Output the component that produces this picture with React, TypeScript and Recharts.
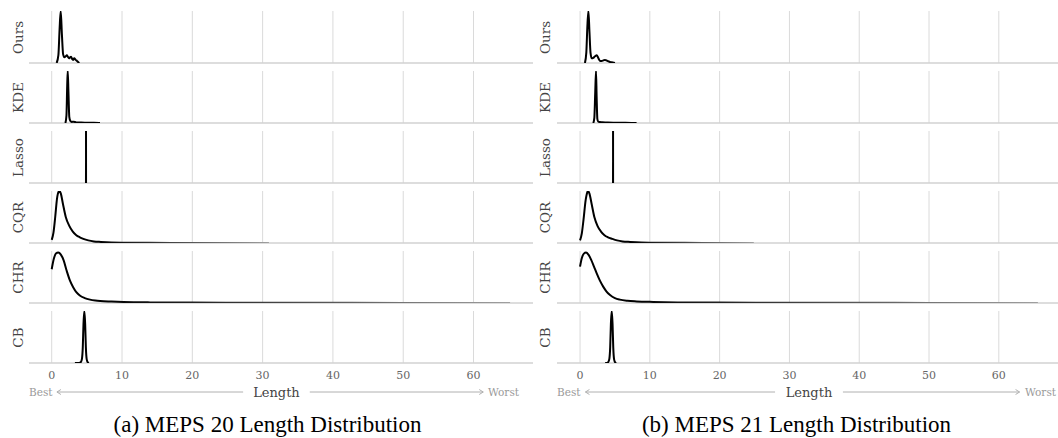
import { LineChart, Line, XAxis, YAxis, ReferenceLine } from 'recharts'

const TICKS = [0, 10, 20, 30, 40, 50, 60]
const METHODS = ['Ours', 'KDE', 'Lasso', 'CQR', 'CHR', 'CB']

// MEPS 20 — normalised density (peak = 1) against interval length
const M20_OURS_X = [0.7, 0.95, 1.12, 1.28, 1.45, 1.62, 1.8, 2.0, 2.15, 2.3, 2.46, 2.62, 2.75, 2.9, 3.05, 3.2, 3.4, 3.6, 3.75, 3.93]
const M20_OURS_Y = [0, 0.15, 0.65, 1.0, 0.55, 0.17, 0.11, 0.13, 0.15, 0.12, 0.09, 0.11, 0.12, 0.08, 0.06, 0.09, 0.06, 0.04, 0.02, 0]
const M20_KDE_X = [1.95, 2.1, 2.2, 2.28, 2.38, 2.5, 2.65, 2.85, 3.1, 3.5, 4.2, 5.0, 6.0, 6.87]
const M20_KDE_Y = [0, 0.15, 0.7, 1.0, 0.6, 0.12, 0.04, 0.02, 0.025, 0.012, 0.008, 0.005, 0.003, 0]
const M20_LASSO_X = [4.875, 4.88, 4.885]
const M20_LASSO_Y = [0, 1, 0]
const M20_CQR_X = [0, 0.25, 0.5, 0.75, 1.0, 1.1, 1.3, 1.6, 2.0, 2.5, 3.0, 3.5, 4.0, 4.5, 5.2, 6.0, 7.0, 8.5, 10.5, 14, 20, 26, 30.9]
const M20_CQR_Y = [0.06, 0.2, 0.5, 0.85, 0.99, 1.0, 0.95, 0.75, 0.5, 0.33, 0.22, 0.15, 0.11, 0.08, 0.05, 0.03, 0.02, 0.01, 0.006, 0.003, 0.002, 0.001, 0]
const M20_CHR_X = [0, 0.3, 0.6, 0.94, 1.3, 1.7, 2.13, 2.6, 3.07, 3.5, 4.0, 4.7, 5.45, 6.2, 6.9, 8.5, 10.2, 14, 20, 30, 40, 50, 58, 65.2]
const M20_CHR_Y = [0.65, 0.85, 0.95, 0.97, 0.93, 0.82, 0.62, 0.43, 0.3, 0.21, 0.145, 0.095, 0.065, 0.048, 0.038, 0.028, 0.02, 0.012, 0.008, 0.005, 0.003, 0.002, 0.001, 0]
const M20_CB_X = [3.3, 3.9, 4.15, 4.3, 4.42, 4.52, 4.64, 4.76, 4.86, 4.98, 5.15, 5.3]
const M20_CB_Y = [0, 0.002, 0.02, 0.08, 0.3, 0.75, 1.0, 0.75, 0.3, 0.07, 0.01, 0]

// MEPS 21
const M21_OURS_X = [0.7, 0.9, 1.05, 1.2, 1.35, 1.5, 1.68, 1.9, 2.15, 2.39, 2.6, 2.87, 3.1, 3.35, 3.58, 3.9, 4.3, 4.7, 5.0]
const M21_OURS_Y = [0, 0.2, 0.7, 1.0, 0.6, 0.2, 0.09, 0.1, 0.13, 0.15, 0.1, 0.04, 0.04, 0.05, 0.06, 0.04, 0.02, 0.01, 0]
const M21_KDE_X = [1.9, 2.05, 2.18, 2.29, 2.38, 2.48, 2.6, 2.8, 3.2, 4.0, 5.0, 6.5, 8.1]
const M21_KDE_Y = [0, 0.1, 0.6, 1.0, 0.5, 0.08, 0.03, 0.02, 0.015, 0.008, 0.005, 0.003, 0]
const M21_LASSO_X = [4.725, 4.73, 4.735]
const M21_LASSO_Y = [0, 1, 0]
const M21_CQR_X = [0, 0.25, 0.5, 0.8, 1.05, 1.15, 1.35, 1.65, 2.05, 2.5, 3.0, 3.5, 4.0, 4.6, 5.3, 6.1, 7.2, 8.8, 11, 15, 20, 24.9]
const M21_CQR_Y = [0.05, 0.18, 0.45, 0.82, 0.98, 1.0, 0.95, 0.76, 0.5, 0.33, 0.22, 0.15, 0.11, 0.08, 0.05, 0.03, 0.02, 0.01, 0.006, 0.003, 0.001, 0]
const M21_CHR_X = [0, 0.25, 0.55, 0.86, 1.2, 1.6, 2.0, 2.39, 2.85, 3.34, 3.8, 4.3, 5.0, 5.7, 6.8, 8.1, 10.5, 14, 20, 30, 40, 50, 58, 65.6]
const M21_CHR_Y = [0.7, 0.86, 0.95, 0.97, 0.93, 0.83, 0.7, 0.57, 0.43, 0.31, 0.22, 0.155, 0.095, 0.065, 0.042, 0.03, 0.02, 0.012, 0.008, 0.005, 0.003, 0.002, 0.001, 0]
const M21_CB_X = [3.6, 3.9, 4.05, 4.2, 4.32, 4.42, 4.54, 4.66, 4.76, 4.88, 5.05, 5.2]
const M21_CB_Y = [0, 0.002, 0.02, 0.08, 0.3, 0.75, 1.0, 0.75, 0.3, 0.07, 0.01, 0]

const zip = (xs: number[], ys: number[]) => xs.map((x, i) => ({ x, y: ys[i] }))

const SERIF = "'DejaVu Serif', serif"
const TIMES = "'Liberation Serif', 'Times New Roman', serif"
const GRID = '#dadada'
const BASE = '#d2d2d2'

interface Panel {
  id: string
  left: number
  width: number
  domain: [number, number]
  labelX: number
  captionX: number
  caption: string
  axisRight: number
  fade: Record<string, number>
  curves: { x: number; y: number }[][]
}

const PANELS: Panel[] = [
  {
    id: 'a',
    left: 29,
    width: 504,
    domain: [-3.23, 68.46],
    labelX: 17.5,
    captionX: 267.5,
    caption: '(a) MEPS 20 Length Distribution',
    axisRight: 519,
    fade: { CQR: 0.22, CHR: 0.12 },
    curves: [
      zip(M20_OURS_X, M20_OURS_Y),
      zip(M20_KDE_X, M20_KDE_Y),
      zip(M20_LASSO_X, M20_LASSO_Y),
      zip(M20_CQR_X, M20_CQR_Y),
      zip(M20_CHR_X, M20_CHR_Y),
      zip(M20_CB_X, M20_CB_Y),
    ],
  },
  {
    id: 'b',
    left: 557,
    width: 501,
    domain: [-3.3, 68.48],
    labelX: 545,
    captionX: 796.5,
    caption: '(b) MEPS 21 Length Distribution',
    axisRight: 1056,
    fade: { CQR: 0.3, CHR: 0.12 },
    curves: [
      zip(M21_OURS_X, M21_OURS_Y),
      zip(M21_KDE_X, M21_KDE_Y),
      zip(M21_LASSO_X, M21_LASSO_Y),
      zip(M21_CQR_X, M21_CQR_Y),
      zip(M21_CHR_X, M21_CHR_Y),
      zip(M21_CB_X, M21_CB_Y),
    ],
  },
]

const ROW_STEP = 60
const ROW_TOP = 9
const PLOT_H = 52

function Ridge({ panel, idx }: { panel: Panel; idx: number }) {
  const last = idx === METHODS.length - 1
  const name = METHODS[idx]
  const fade = panel.fade[name]
  const gid = `fade-${panel.id}-${idx}`
  const height = last ? 2 + PLOT_H + 22 : 2 + PLOT_H + 2
  return (
    <div style={{ position: 'absolute', left: panel.left, top: ROW_TOP + idx * ROW_STEP }}>
      <LineChart
        width={panel.width}
        height={height}
        data={panel.curves[idx]}
        margin={{ top: 2, right: 0, bottom: last ? 0 : 2, left: 0 }}
      >
        <defs>
          <linearGradient id={gid} x1="0" y1="0" x2="1" y2="0">
            <stop offset="0" stopColor="#000" />
            <stop offset={fade ?? 1} stopColor="#000" />
            <stop offset="1" stopColor="#a0a0a0" />
          </linearGradient>
        </defs>
        <XAxis
          type="number"
          dataKey="x"
          domain={panel.domain}
          allowDataOverflow
          ticks={TICKS}
          interval={0}
          hide={!last}
          height={22}
          axisLine={false}
          tickLine={false}
          tick={{ fontSize: 11, fill: '#666', style: { fontFamily: SERIF } }}
        />
        <YAxis type="number" domain={[0, 1]} hide allowDataOverflow />
        {TICKS.map((t) => (
          <ReferenceLine key={t} x={t} stroke={GRID} strokeWidth={1} />
        ))}
        <ReferenceLine y={0} stroke={BASE} strokeWidth={1.5} />
        <Line
          type="monotone"
          dataKey="y"
          stroke={fade !== undefined ? `url(#${gid})` : '#000'}
          strokeWidth={2}
          dot={false}
          activeDot={false}
          isAnimationActive={false}
        />
      </LineChart>
    </div>
  )
}

function AxisTitle({ l, r }: { l: number; r: number }) {
  const w = r - l
  const y = 392
  const a1 = [l + 0.057 * w, l + 0.437 * w]
  const a2 = [l + 0.573 * w, l + 0.927 * w]
  return (
    <g style={{ fontFamily: SERIF }}>
      <text x={l} y={y} fontSize={10.5} fill="#9a9a9a" dominantBaseline="central">Best</text>
      <line x1={a1[0]} x2={a1[1]} y1={y} y2={y} stroke="#b0b0b0" strokeWidth={1} />
      <polyline points={`${a1[0] + 4},${y - 2.5} ${a1[0]},${y} ${a1[0] + 4},${y + 2.5}`} fill="none" stroke="#b0b0b0" />
      <text x={l + 0.505 * w} y={y} fontSize={13} fill="#444" textAnchor="middle" dominantBaseline="central">Length</text>
      <line x1={a2[0]} x2={a2[1]} y1={y} y2={y} stroke="#b0b0b0" strokeWidth={1} />
      <polyline points={`${a2[1] - 4},${y - 2.5} ${a2[1]},${y} ${a2[1] - 4},${y + 2.5}`} fill="none" stroke="#b0b0b0" />
      <text x={r} y={y} fontSize={10.5} fill="#9a9a9a" textAnchor="end" dominantBaseline="central">Worst</text>
    </g>
  )
}

export default function App() {
  return (
    <div style={{ position: 'absolute', left: 0, top: 0, width: 1058, height: 438, background: '#fff', overflow: 'hidden' }}>
      {PANELS.map((p) => METHODS.map((m, i) => <Ridge key={p.id + m} panel={p} idx={i} />))}
      <svg width={1058} height={438} style={{ position: 'absolute', left: 0, top: 0, pointerEvents: 'none' }}>
        {PANELS.map((p) => (
          <g key={p.id}>
            {METHODS.map((m, i) => {
              const cy = 37.5 + i * ROW_STEP
              return (
                <text
                  key={m}
                  x={p.labelX}
                  y={cy}
                  transform={`rotate(-90 ${p.labelX} ${cy})`}
                  textAnchor="middle"
                  dominantBaseline="central"
                  fontSize={13.5}
                  fill="#444"
                  style={{ fontFamily: SERIF }}
                >
                  {m}
                </text>
              )
            })}
            <AxisTitle l={p.left} r={p.axisRight} />
            <text x={p.captionX} y={432} textAnchor="middle" fontSize={23} fill="#000" style={{ fontFamily: TIMES }}>
              {p.caption}
            </text>
          </g>
        ))}
      </svg>
    </div>
  )
}
